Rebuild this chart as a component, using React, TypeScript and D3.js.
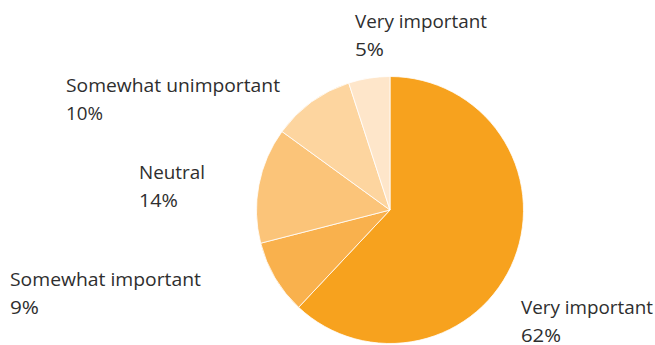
import React from "react";
import * as d3 from "d3";

const categories = ["Very important", "Somewhat important", "Neutral", "Somewhat unimportant", "Very important"];
const values = [62, 9, 14, 10, 5];
const colors = ["#F7A21E", "#F9B14D", "#FBC479", "#FDD59F", "#FEE6CA"];

// label layout: x, baseline y of first line, label width, percent width
const labelLayout: [number, number, number, number][] = [
  [521, 314, 132, 40],
  [10, 286, 191, 29],
  [139, 179, 66, 39],
  [66, 92, 214, 37],
  [355, 28, 132, 29],
];

const W = 655;
const H = 345;

export default function App() {
  const cx = 390;
  const cy = 210;
  const r = 133.5;
  const pie = d3.pie<number>().sort(null).value((d) => d)(values);
  const arc = d3.arc<d3.PieArcDatum<number>>().innerRadius(0).outerRadius(r);
  return (
    <div style={{ position: "fixed", left: 0, top: 0, width: W, height: H, background: "#fff" }}>
      <svg width={W} height={H} style={{ display: "block" }}>
        <g transform={`translate(${cx},${cy})`}>
          {pie.map((p, i) => (
            <path key={i} d={arc(p) || ""} fill={colors[i]} stroke="#fff" strokeWidth={0.8} />
          ))}
        </g>
        {categories.map((c, i) => {
          const [x, y, w, pw] = labelLayout[i];
          return (
            <g key={i} fontFamily="'Open Sans', sans-serif" fontSize={19} fill="#2e2e2e">
              <text x={x} y={y} textLength={w} lengthAdjust="spacingAndGlyphs">{c}</text>
              <text x={x} y={y + 28} textLength={pw} lengthAdjust="spacingAndGlyphs">{values[i]}%</text>
            </g>
          );
        })}
      </svg>
    </div>
  );
}
